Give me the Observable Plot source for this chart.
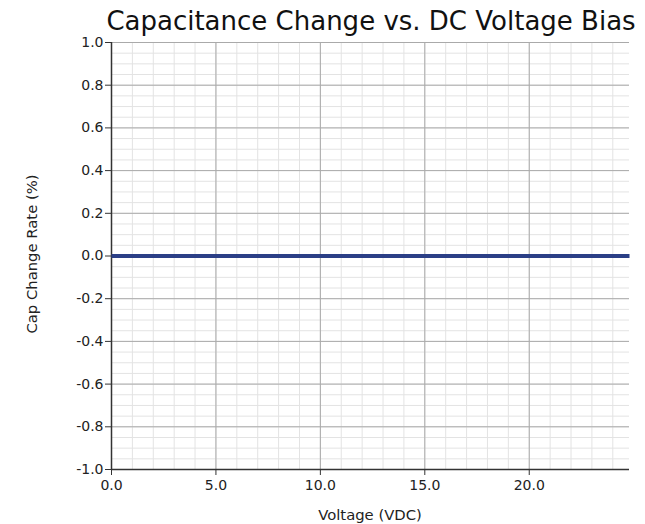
<!DOCTYPE html>
<html>
<head>
<meta charset="utf-8">
<script src="https://cdn.jsdelivr.net/npm/d3@7"></script>
<script src="https://cdn.jsdelivr.net/npm/@observablehq/plot@0.6"></script>
<style>
  html, body { margin: 0; padding: 0; background: #fff; }
  #chart svg { display: block; }
</style>
</head>
<body>
<div id="chart"></div>
<script>
const voltage = [0, 5, 10, 15, 20, 24.8];
const capChange = [0, 0, 0, 0, 0, 0];
const xTicks = [0, 5, 10, 15, 20];
const yTicks = [-1.0, -0.8, -0.6, -0.4, -0.2, 0.0, 0.2, 0.4, 0.6, 0.8, 1.0];
const xMinor = d3.range(0, 25, 1);
const yMinor = d3.range(-1, 1.0001, 0.05).map(v => +v.toFixed(2));
const title = "Capacitance Change vs. DC Voltage Bias";
const xLabel = "Voltage (VDC)";
const yLabel = "Cap Change Rate (%)";

const data = voltage.map((v, i) => ({v, c: capChange[i]}));

const W = 645, H = 524;
const chart = Plot.plot({
  width: W,
  height: H,
  marginLeft: 111,
  marginRight: 16,
  marginTop: 42,
  marginBottom: 55,
  style: {fontFamily: "DejaVu Sans", fontSize: "14px", color: "#222", background: "#fff"},
  x: {domain: [0, 24.8], label: null},
  y: {domain: [-1, 1], label: null},
  marks: [
    Plot.ruleX(xMinor, {stroke: "#e3e3e3", strokeWidth: 1}),
    Plot.ruleY(yMinor, {stroke: "#e3e3e3", strokeWidth: 1}),
    Plot.ruleX(xTicks, {stroke: "#aaaaaa", strokeWidth: 1}),
    Plot.ruleY(yTicks, {stroke: "#aaaaaa", strokeWidth: 1}),
    Plot.axisX({ticks: xTicks, tickFormat: d => d.toFixed(1), tickSize: 6, tickPadding: 5, stroke: "#333", fill: "#222", fontSize: 14}),
    Plot.axisY({ticks: yTicks, tickFormat: d => d.toFixed(1), tickSize: 6, tickPadding: 2, stroke: "#333", fill: "#222", fontSize: 14}),
    Plot.ruleX([0], {stroke: "#333", strokeWidth: 1.5}),
    Plot.ruleY([-1], {stroke: "#333", strokeWidth: 1.5}),
    Plot.line(data, {x: "v", y: "c", stroke: "#2b3f86", strokeWidth: 4, strokeLinecap: "butt"})
  ]
});

const svg = d3.select(chart);
svg.append("text")
  .attr("x", 371).attr("y", 30)
  .attr("text-anchor", "middle")
  .attr("font-family", "DejaVu Sans")
  .attr("font-size", 26)
  .attr("fill", "#111")
  .text(title);
svg.append("text")
  .attr("x", 370).attr("y", 520)
  .attr("text-anchor", "middle")
  .attr("font-family", "DejaVu Sans")
  .attr("font-size", 14.8)
  .attr("fill", "#222")
  .text(xLabel);
svg.append("text")
  .attr("transform", "translate(37,254) rotate(-90)")
  .attr("text-anchor", "middle")
  .attr("font-family", "DejaVu Sans")
  .attr("font-size", 14.8)
  .attr("fill", "#222")
  .text(yLabel);

document.getElementById("chart").appendChild(chart);
</script>
</body>
</html>
